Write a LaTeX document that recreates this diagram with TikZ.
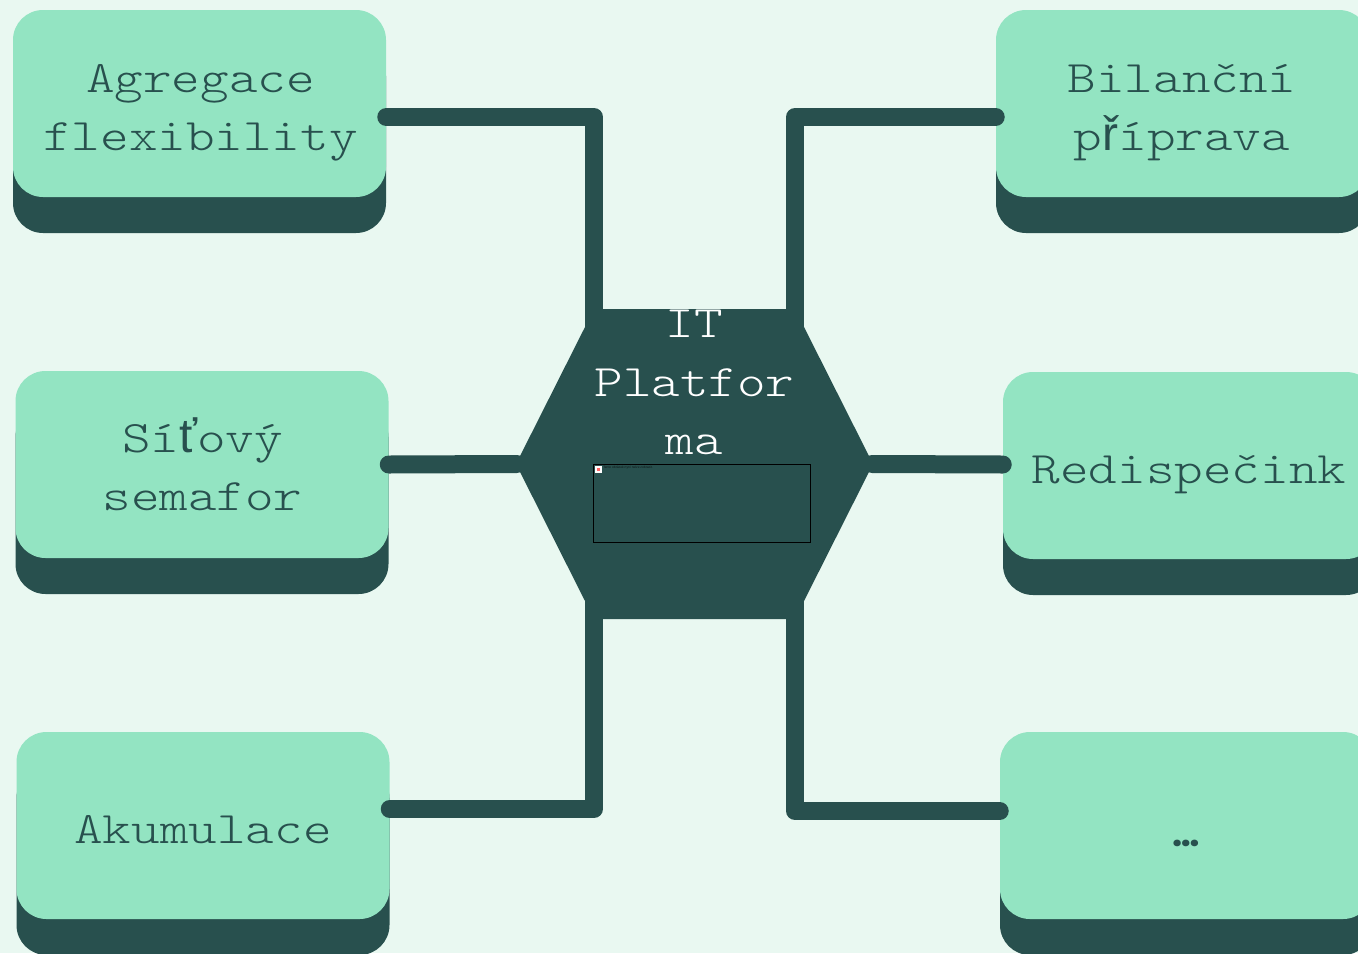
\documentclass[tikz,border=0pt]{standalone}
\usepackage{fontspec}
\newfontfamily\labelfont[FakeStretch=1.21]{Latin Modern Mono Light}
\newfontfamily\fallbackfont{Liberation Sans}
\newfontfamily\dotsfont{Poppins}
\newfontfamily\tinyfont{Liberation Sans}
\definecolor{bgc}{HTML}{E9F8F1}
\definecolor{boxc}{HTML}{93E4C2}
\definecolor{darkc}{HTML}{28504E}
\newcommand{\fb}[1]{{\fallbackfont\fontsize{36}{43.7}\selectfont #1}}
\tikzset{
  boxtop/.style={fill=boxc,draw=none,rounded corners=22.5pt,minimum width=279.75pt,minimum height=140.25pt,inner sep=0pt},
  boxbase/.style={fill=darkc,draw=none,rounded corners=22.5pt,minimum width=279.75pt,minimum height=140.25pt,inner sep=0pt},
  boxlabel/.style={text=darkc,align=center,inner sep=0pt,font=\labelfont\fontsize{33.75}{43.7}\selectfont},
  hublabel/.style={text=white,align=center,inner sep=0pt,font=\labelfont\fontsize{33.75}{43.7}\selectfont},
  link/.style={draw=darkc,line width=13.5pt,line cap=round,line join=round},
  hubnode/.style={draw=none,inner sep=0pt,minimum width=266pt,minimum height=232.5pt},
  frame/.style={draw=black,line width=0.75pt,fill=none,inner sep=0pt,minimum width=162.75pt,minimum height=58.5pt}
}
\begin{document}
\begin{tikzpicture}[x=0.75pt,y=-0.75pt]
\path[use as bounding box] (0,0) rectangle (1358,953);
\clip (0,0) rectangle (1358,953);
\fill[bgc] (0,0) rectangle (1358,953);
% bases
\node[boxbase] (aggb) at (199.5,139.5) {};
\node[boxbase] (netb) at (202,500.5) {};
\node[boxbase] (akub) at (203,861.5) {};
\node[boxbase] (bilb) at (1182.5,139.5) {};
\node[boxbase] (redb) at (1189.5,501.5) {};
\node[boxbase] (dotb) at (1186.5,861.5) {};
% tops
\node[boxtop] (agg) at (199.5,103.5) {};
\node[boxtop] (net) at (202,464.5) {};
\node[boxtop] (aku) at (203,825.5) {};
\node[boxtop] (bil) at (1182.5,103.5) {};
\node[boxtop] (red) at (1189.5,465.5) {};
\node[boxtop] (dot) at (1186.5,825.5) {};
% hub
\fill[darkc] (516,464) -- (585,327) -- (603,309) -- (786,309) -- (804,327) -- (873,464) -- (804,601) -- (786,619) -- (603,619) -- (585,601) -- cycle;
\node[hubnode] (hub) at (694.5,464) {};
% connectors
\draw[link] ([yshift=-10.125pt]agg.east) -| ([xshift=-75.375pt,yshift=-13.5pt]hub.north);
\draw[link] ([yshift=-10.125pt]bil.west) -| ([xshift=75.375pt,yshift=-13.5pt]hub.north);
\draw[link] (net.east) -- (hub.west);
\draw[link] ([yshift=0.75pt]red.west) -- (hub.east);
\draw[link] ([yshift=12.375pt]aku.east) -| ([xshift=-75.375pt,yshift=13.5pt]hub.south);
\draw[link] ([yshift=10.875pt]dot.west) -| ([xshift=75.375pt,yshift=13.5pt]hub.south);
% labels
\node[boxlabel] (aggt) at (200.5,113) {Agregace\\flexibility};
\node[boxlabel] (nett) at (202.5,464) {Sí\fb{ť}ový\\semafor};
\node[boxlabel] (akut) at (203,830) {Akumulace};
\node[boxlabel] (bilt) at (1182,112.5) {Bilanční\\p\fb{ř}íprava};
\node[boxlabel] (redt) at (1189,475) {Redispečink};
\node[text=darkc,inner sep=0pt,font=\dotsfont\bfseries\fontsize{27}{32}\selectfont] (dott) at (1186,843) {…};
\node[hublabel] (hubt) at (694.5,382.5) {IT\\Platfor\\ma};
% placeholder
\node[frame] (ph) at (702,503.5) {};
\fill[white] (595,466) rectangle (602,473);
\fill[red!60] (597,468) rectangle (600,471);
\node[anchor=west,inner sep=0pt,text=black,opacity=0.7,font=\tinyfont\fontsize{2.45}{3}\selectfont] (pht) at (603,468) {Tento obrázek nyní nelze zobrazit.};
\end{tikzpicture}
\end{document}
